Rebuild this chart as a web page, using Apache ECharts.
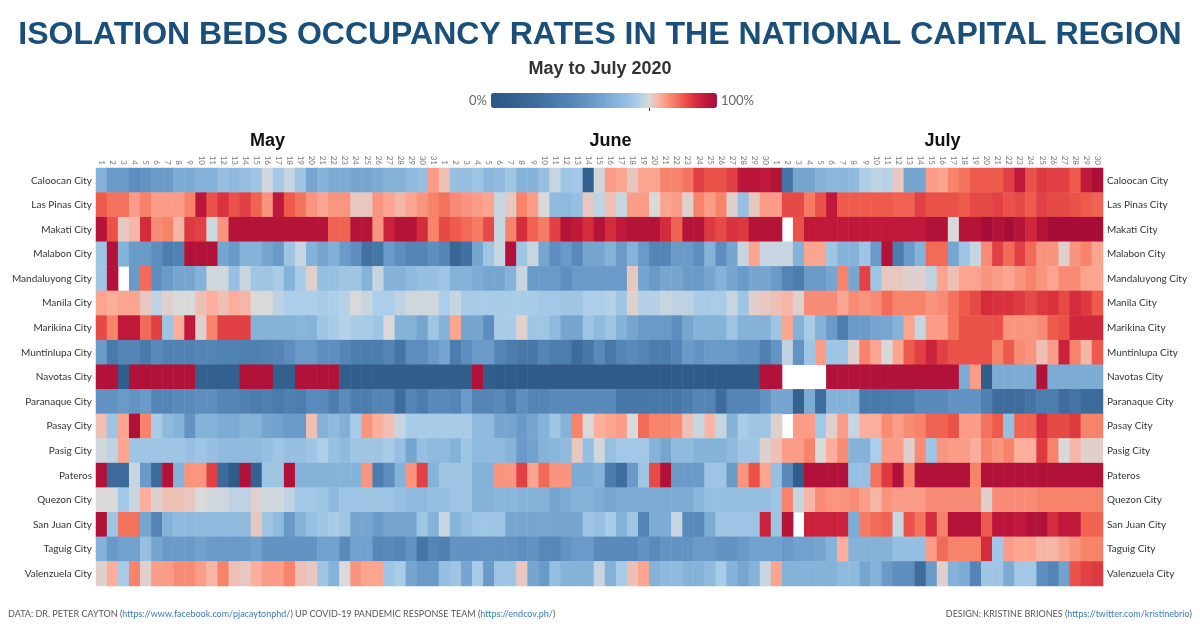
<!DOCTYPE html>
<html>
<head>
<meta charset="utf-8">
<script src="https://cdn.jsdelivr.net/npm/echarts@6/dist/echarts.min.js"></script>
<style>
  html, body { margin: 0; padding: 0; background: #fff; }
  #chart { width: 1200px; height: 635px; }
</style>
</head>
<body>
<div id="chart"></div>
<script>
// occupancy rate (%) per city, one value per day: May 1-31, June 1-30, July 1-30 (null = no data)
const cities = ['Caloocan City', 'Las Pinas City', 'Makati City', 'Malabon City', 'Mandaluyong City', 'Manila City',
  'Marikina City', 'Muntinlupa City', 'Navotas City', 'Paranaque City', 'Pasay City', 'Pasig City', 'Pateros',
  'Quezon City', 'San Juan City', 'Taguig City', 'Valenzuela City'];
const months = ['May', 'June', 'July'];
const monthDays = [31, 30, 30];

const caloocan = [55,45,45,40,42,45,45,52,52,55,55,60,58,60,62,69,63,68,62,
  50,55,52,52,50,50,52,55,55,58,60,77,73,60,60,62,57,
  58,62,55,55,60,68,62,63,10,69,77,76,72,76,76,80,80,82,
  88,86,86,88,96,96,95,97,25,50,50,55,57,57,58,65,67,66,
  72,50,50,77,76,80,82,85,85,85,88,95,86,89,88,88,85,95,99];
const lasPinas = [85,82,82,77,80,77,77,77,80,96,86,90,86,88,84,78,95,85,82,
  78,76,78,78,72,72,78,76,74,76,78,80,82,79,78,77,76,
  68,72,80,77,70,58,58,60,72,67,73,68,77,77,70,76,77,71,
  80,77,80,71,60,72,77,77,87,87,81,86,95,85,85,85,85,85,
  84,84,88,86,86,86,85,87,87,88,86,87,85,88,87,87,86,85,84];
const makati = [97,86,72,74,91,79,80,74,89,88,69,78,97,97,97,97,97,97,97,
  97,97,84,84,97,97,78,93,97,97,91,80,87,85,83,81,87,
  68,80,91,84,81,88,97,95,91,97,91,95,97,97,97,91,84,97,
  97,89,87,90,89,97,97,97,null,86,95,95,95,95,95,95,95,95,
  95,95,95,98,98,70,97,97,100,98,100,97,92,97,100,100,100,100,100];
const malabon = [62,98,55,45,45,40,30,33,98,98,98,50,45,55,55,50,45,62,68,
  55,50,54,45,40,22,26,45,40,35,35,40,35,15,22,50,62,
  68,98,62,68,50,40,45,38,50,50,55,45,55,45,35,35,45,45,
  40,55,40,50,68,76,68,68,68,55,76,76,62,55,55,62,45,98,
  30,45,55,83,83,50,62,68,79,88,83,88,83,78,78,71,78,80,76];
const mandaluyong = [62,98,null,45,83,40,45,50,50,55,69,69,60,68,62,62,64,55,64,
  71,60,60,62,62,55,68,55,55,58,60,60,62,55,55,52,50,
  50,55,68,45,45,45,40,45,45,45,45,45,72,50,45,50,50,45,
  45,50,55,50,45,50,50,45,35,30,45,45,50,80,50,88,62,72,
  72,71,71,67,76,73,76,76,78,77,76,78,80,78,76,79,79,76,76];
const manila = [76,75,76,76,72,67,71,70,70,73,75,73,75,74,70,70,67,65,65,
  65,64,65,66,70,68,65,65,67,69,69,69,65,68,64,64,64,
  64,64,64,64,63,63,62,62,65,65,66,62,71,66,66,68,67,67,
  64,64,64,68,62,71,72,73,74,71,79,79,79,76,79,78,79,83,
  80,80,80,78,79,82,85,87,91,90,90,89,87,89,90,87,91,89,85];
const marikina = [87,80,95,95,83,88,62,75,95,71,80,88,88,88,55,55,55,55,56,
  55,62,64,66,64,64,62,70,55,55,50,62,55,76,50,50,40,
  64,64,71,62,62,58,50,50,62,58,62,55,50,45,45,45,40,50,
  55,55,55,62,55,55,55,62,76,55,64,55,45,30,45,45,50,50,
  55,76,68,77,77,82,86,86,86,86,78,78,78,79,85,86,92,92,92];
const muntinlupa = [45,28,35,35,28,38,33,33,33,35,35,33,33,32,32,33,35,40,45,
  45,40,40,35,30,30,30,35,25,40,40,45,50,30,40,45,45,
  35,30,27,27,35,30,30,20,27,38,27,35,38,35,30,30,35,45,
  42,45,45,45,42,42,32,42,67,42,62,77,62,62,71,80,76,70,
  76,85,88,93,88,86,86,86,86,80,85,79,78,73,77,93,80,74,85];
const navotas = [98,98,8,98,98,98,98,98,98,10,10,10,10,98,98,98,10,10,98,
  98,98,98,8,8,8,8,8,8,8,8,8,8,8,8,98,8,
  5,5,5,5,5,5,5,5,5,5,5,5,5,5,5,5,5,5,
  5,5,5,5,5,5,98,98,null,null,null,null,98,98,98,98,98,98,
  98,98,98,98,98,98,52,77,8,52,52,52,52,98,52,52,52,52,52];
const paranaque = [42,42,45,42,45,35,35,38,38,40,40,35,35,32,30,32,28,32,30,
  38,38,30,38,30,30,35,35,20,35,30,38,38,35,45,35,35,
  37,30,40,35,35,38,38,38,38,38,38,27,27,27,27,27,27,30,
  35,35,20,35,35,35,42,50,50,12,52,20,55,55,55,28,28,28,
  30,30,38,38,38,42,42,42,32,20,20,20,25,30,30,20,25,18,18];
const pasay = [73,62,76,98,80,64,58,55,42,55,55,52,52,55,55,50,48,45,45,
  73,55,58,54,64,78,75,73,68,64,64,64,64,64,64,58,58,
  50,50,45,50,55,62,55,80,70,75,76,77,70,83,80,80,79,73,
  68,74,68,55,64,62,62,71,null,77,77,63,71,77,68,75,75,79,
  77,79,80,84,84,86,77,77,82,85,60,84,84,91,87,87,89,80,80];
const pasig = [69,67,76,62,62,62,62,62,60,62,60,58,58,58,58,60,62,60,60,
  62,65,60,58,62,62,62,64,60,50,60,58,58,55,62,58,58,
  58,55,45,48,55,56,58,72,60,69,60,63,63,63,55,50,58,58,
  55,55,55,58,62,62,71,73,77,77,80,70,75,79,55,55,65,77,
  77,71,79,62,78,77,77,75,80,78,80,75,75,89,80,70,74,71,71];
const pateros = [98,18,18,68,45,18,98,55,78,78,88,18,5,98,12,62,62,98,55,
  55,55,55,55,55,78,30,40,55,78,88,55,62,62,62,55,55,
  78,78,88,76,83,78,78,52,52,55,30,20,45,62,87,98,45,45,
  45,62,62,45,78,86,76,60,38,8,98,98,98,98,60,60,82,89,
  98,80,98,98,98,98,98,80,98,98,98,98,98,98,98,98,98,98,98];
const quezon = [70,70,63,68,75,71,73,73,72,70,69,69,67,67,71,69,69,67,63,
  63,62,58,62,62,62,62,62,60,58,58,60,60,62,62,55,55,
  56,56,55,55,55,50,52,55,55,52,50,52,52,52,52,52,52,52,
  57,60,60,60,60,60,60,62,80,68,74,79,78,78,79,77,74,78,
  77,77,77,79,79,79,79,79,71,79,79,79,79,80,80,80,80,80,80];
const sanJuan = [98,62,82,82,50,35,55,58,58,58,58,58,58,58,72,62,58,45,55,
  60,62,64,62,50,50,45,50,50,50,62,55,68,56,60,62,62,
  62,50,50,50,50,50,50,50,62,60,64,55,62,35,52,52,68,38,
  38,52,62,62,62,62,93,62,97,null,93,93,93,93,52,81,83,84,
  68,86,82,91,80,97,97,97,85,96,96,95,98,98,91,95,95,84,84];
const taguig = [55,45,48,48,60,50,45,45,45,48,45,45,45,45,48,42,42,42,42,
  42,48,48,38,48,48,36,38,35,42,25,35,32,42,42,42,42,
  42,42,40,42,36,36,42,45,45,38,38,38,38,42,38,42,42,42,
  45,45,42,42,45,48,48,48,45,48,48,50,55,75,55,55,55,55,
  60,60,60,77,83,80,80,80,91,63,77,76,76,74,74,76,78,80,80];
const valenzuela = [71,75,64,80,71,77,77,79,79,77,74,80,73,72,75,77,77,80,73,
  72,62,55,70,78,76,76,62,64,50,45,45,60,62,50,64,45,
  62,62,72,50,45,60,55,55,55,68,55,64,73,76,55,58,58,55,
  55,58,64,55,50,55,68,76,55,55,55,55,55,58,58,50,55,45,
  40,40,20,45,71,55,52,35,62,62,52,63,63,40,35,48,86,88,89];

const rows = [caloocan, lasPinas, makati, malabon, mandaluyong, manila, marikina, muntinlupa, navotas,
  paranaque, pasay, pasig, pateros, quezon, sanJuan, taguig, valenzuela];

// day tick labels and where each month name sits
const dayLabels = [];
const monthLabelAt = {};
let offset = 0;
monthDays.forEach((n, m) => {
  for (let d = 1; d <= n; d++) dayLabels.push(String(d));
  monthLabelAt[offset + 15] = months[m];
  offset += n;
});

const cells = [];
rows.forEach((row, y) => {
  row.forEach((v, x) => {
    if (v !== null) cells.push([x, y, v]);
  });
});

const colors = ['#2c5784', '#2f5b88', '#33608e', '#386695', '#3e6d9d', '#4575a7', '#4c7daf', '#5585b7',
  '#5e8ebf', '#6a9ac8', '#76a6d0', '#85b2d9', '#96bfe2', '#acceea', '#d9d9d9', '#fcad9b', '#f7836b',
  '#ee5a4c', '#d9313e', '#c0183a', '#a80c38'];

const chart = echarts.init(document.getElementById('chart'));
chart.setOption({
  animation: false,
  title: [
    {
      text: 'ISOLATION BEDS OCCUPANCY RATES IN THE NATIONAL CAPITAL REGION',
      left: 'center', top: 14,
      textStyle: { fontFamily: 'Liberation Sans', fontWeight: 900, fontSize: 32, color: '#1a4f7a' },
    },
    {
      text: 'May to July 2020',
      left: 'center', top: 55,
      textStyle: { fontFamily: 'Liberation Sans', fontWeight: 'bold', fontSize: 18, color: '#333' },
    },
  ],
  grid: { left: 96, right: 97, top: 168, bottom: 49 },
  xAxis: [
    {
      type: 'category', data: dayLabels, position: 'top',
      axisLine: { show: false }, axisTick: { show: false }, splitLine: { show: false },
      axisLabel: { interval: 0, rotate: 90, fontSize: 8, color: '#777', margin: 3, fontFamily: 'Lato' },
    },
    {
      type: 'category', data: dayLabels, position: 'top',
      axisLine: { show: false }, axisTick: { show: false },
      axisLabel: {
        interval: (i) => monthLabelAt[i] !== undefined,
        formatter: (v, i) => monthLabelAt[i] || '',
        fontSize: 18, fontWeight: 'bold', color: '#111', margin: 18, fontFamily: 'Liberation Sans',
      },
    },
  ],
  yAxis: [
    {
      type: 'category', data: cities, inverse: true,
      axisLine: { show: false }, axisTick: { show: false },
      axisLabel: { fontSize: 10, color: '#333', margin: 4, fontFamily: 'Lato' },
    },
    {
      type: 'category', data: cities, inverse: true, position: 'right',
      axisLine: { show: false }, axisTick: { show: false },
      axisLabel: { fontSize: 10, color: '#333', margin: 4, fontFamily: 'Lato' },
    },
  ],
  visualMap: {
    type: 'continuous', min: 0, max: 100, orient: 'horizontal',
    left: 454, top: 78, itemWidth: 15, itemHeight: 226,
    calculable: false, text: ['100%', '0%'], textGap: 4,
    textStyle: { color: '#666', fontSize: 13, fontFamily: 'Lato' },
    inRange: { color: colors },
    seriesIndex: 0,
  },
  graphic: [
    { type: 'rect', left: 649, top: 107, shape: { width: 1, height: 4 }, style: { fill: '#333' } },
    {
      type: 'text', left: 8, top: 610,
      style: {
        text: '{g|DATA: DR. PETER CAYTON (}{b|https://www.facebook.com/pjacaytonphd/}{g|) UP COVID-19 PANDEMIC RESPONSE TEAM (}{b|https://endcov.ph/}{g|)}',
        rich: {
          g: { fontSize: 9, fill: '#555', fontFamily: 'Lato' },
          b: { fontSize: 9, fill: '#3a7bbf', fontFamily: 'Lato' },
        },
      },
    },
    {
      type: 'text', right: 8, top: 610,
      style: {
        text: '{g|DESIGN: KRISTINE BRIONES (}{b|https://twitter.com/kristinebrio}{g|)}',
        rich: {
          g: { fontSize: 9, fill: '#555', fontFamily: 'Lato' },
          b: { fontSize: 9, fill: '#3a7bbf', fontFamily: 'Lato' },
        },
      },
    },
  ],
  series: [{
    type: 'heatmap', data: cells, xAxisIndex: 0, yAxisIndex: 0,
    itemStyle: { borderWidth: 0 },
    emphasis: { disabled: true },
  }],
});
</script>
</body>
</html>
